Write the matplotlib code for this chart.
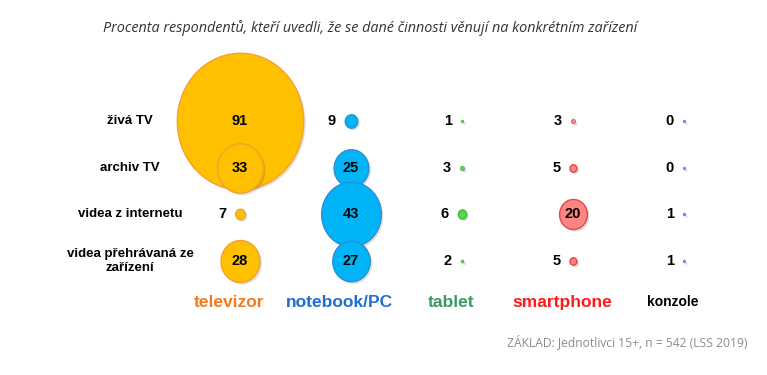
import numpy as np
import matplotlib
matplotlib.use('Agg')
import matplotlib.pyplot as plt
import matplotlib.transforms as mtransforms
from matplotlib.path import Path

plt.close('all')

# data
activities = ['živá TV', 'archiv TV', 'videa z internetu', 'videa přehrávaná ze\nzařízení']
devices = ['televizor', 'notebook/PC', 'tablet', 'smartphone', 'konzole']
televizor = [91, 33, 7, 28]
notebook = [9, 25, 43, 27]
tablet = [1, 3, 6, 2]
smartphone = [3, 5, 20, 5]
konzole = [0, 0, 1, 1]

values = np.array([televizor, notebook, tablet, smartphone, konzole])  # device x activity

fill_colors = ['#FFC000', '#00B4F5', '#5CD64A', '#FF8585', '#9A6AE8']
edge_colors = ['#F5A030', '#2A8FD8', '#3CB83A', '#E04848', '#9A6AE8']
label_colors = ['#F47A20', '#1F6FD0', '#3A9A60', '#FF1A1A', '#000000']

# bubbles are slightly taller than wide in the original
stretch = 1.08
t = np.linspace(0, 2 * np.pi, 100)
ellipse = Path(np.column_stack([np.cos(t), stretch * np.sin(t)]), closed=True)

fig = plt.figure(figsize=(7.67, 3.75), dpi=100)
ax = fig.add_axes([0, 0, 1, 1])
ax.set_xlim(-2.162, 4.748)
ax.set_ylim(5.439, -2.591)
ax.axis('off')

shadow = mtransforms.offset_copy(ax.transData, fig=fig, x=2, y=-2, units='dots')

for i, dev in enumerate(devices):
    for j in range(len(activities)):
        v = values[i, j]
        d = max(v, 1.8)  # marker width in points
        s = (d * stretch) ** 2
        x = [i]
        y = [j]
        ax.scatter(x, y, s=s, marker=ellipse, color='#000000', alpha=0.12, lw=0,
                   transform=shadow, zorder=2 + j * 2)
        ax.scatter(x, y, s=s, marker=ellipse, facecolor=fill_colors[i],
                   edgecolor=edge_colors[i], lw=1.0 if v > 3 else 0.5, zorder=3 + j * 2)
        if v >= 20:
            ax.annotate(str(v), (i, j), ha='center', va='center', fontsize=10.5,
                        fontweight='bold', family='Liberation Sans', zorder=20)
        else:
            r_px = d / 0.72 / 2
            ax.annotate(str(v), (i, j), xytext=(-(r_px + 9) * 0.72, 0),
                        textcoords='offset points', ha='right', va='center',
                        fontsize=10.5, fontweight='bold', family='Liberation Sans', zorder=20)

for j, act in enumerate(activities):
    ax.text(-0.99, j, act, ha='center', va='center', fontsize=9.5, fontweight='bold',
            family='Liberation Sans', linespacing=1.3)

for i, dev in enumerate(devices):
    ax.text(i - 0.1, 3.876, dev, ha='center', va='center',
            fontsize=10 if dev == 'konzole' else 12.5, fontweight='bold',
            color=label_colors[i], family='Liberation Sans')

fig.text(0.483, 0.925, 'Procenta respondentů, kteří uvedli, že se dané činnosti věnují na konkrétním zařízení',
         ha='center', va='center', fontsize=10.4, style='italic', color='#333333',
         family='Open Sans')
fig.text(0.974, 0.088, 'ZÁKLAD: Jednotlivci 15+, n = 542 (LSS 2019)', ha='right', va='center',
         fontsize=8.7, color='#8C8C8C', family='Open Sans')

plt.savefig('out.png', dpi=100)
